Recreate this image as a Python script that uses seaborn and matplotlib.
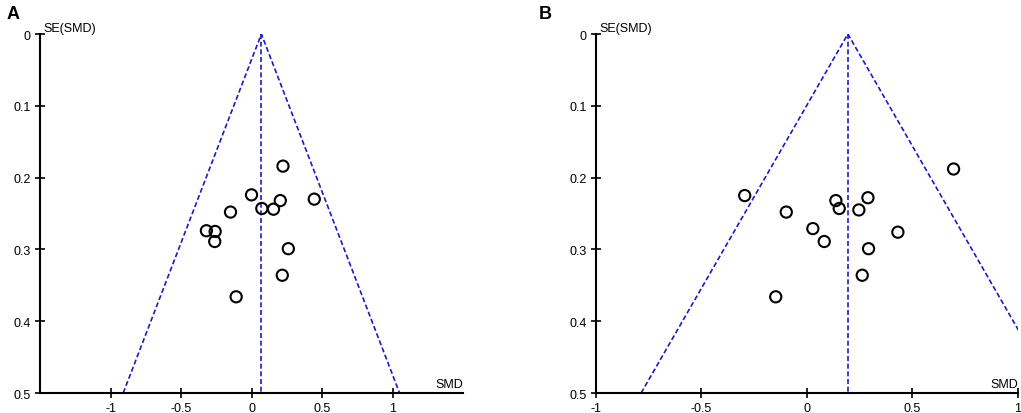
import matplotlib
matplotlib.use('Agg')
import matplotlib.pyplot as plt
import seaborn as sns
import pandas as pd

# Funnel plot data (SMD vs SE(SMD))
smd_a = [0.223, 0.000, 0.073, 0.204, 0.156, 0.445, -0.149, -0.320, -0.258, -0.261, 0.261, 0.218, -0.109]
se_a = [0.184, 0.224, 0.243, 0.232, 0.244, 0.230, 0.248, 0.274, 0.275, 0.289, 0.299, 0.336, 0.366]
pooled_a = 0.07

smd_b = [0.695, -0.295, -0.098, 0.137, 0.153, 0.289, 0.246, 0.028, 0.082, 0.431, 0.292, 0.262, -0.148]
se_b = [0.188, 0.225, 0.248, 0.232, 0.243, 0.228, 0.245, 0.271, 0.289, 0.276, 0.299, 0.336, 0.366]
pooled_b = 0.194

se_max = 0.5
x_ticks = [-1, -0.5, 0, 0.5, 1]
x_labels = ['-1', '-0.5', '0', '0.5', '1']
y_ticks = [0, 0.1, 0.2, 0.3, 0.4, 0.5]
y_labels = ['0', '0.1', '0.2', '0.3', '0.4', '0.5']

sns.set_style('white')
plt.rcParams['font.family'] = ['Liberation Sans', 'DejaVu Sans']
plt.rcParams['text.color'] = 'black'
plt.rcParams['xtick.color'] = 'black'
plt.rcParams['ytick.color'] = 'black'

fig = plt.figure(figsize=(10.21, 4.14), dpi=100)
ax_a = fig.add_axes([0.0392, 0.0483, 0.4143, 0.8671])
ax_b = fig.add_axes([0.5837, 0.0483, 0.4133, 0.8671])

line_col = '#1a1acc'


def funnel(ax, smd, se, pooled, xlim, letter, letter_x):
    df = pd.DataFrame({'SMD': smd, 'SE': se})
    # funnel: pooled +/- 1.96*SE
    ax.plot([pooled - 1.96 * se_max, pooled, pooled + 1.96 * se_max], [se_max, 0, se_max],
            ls=(0, (3, 1.6)), color=line_col, lw=1.2, zorder=2)
    ax.plot([pooled, pooled], [0, se_max], ls=(0, (3, 1.6)), color=line_col, lw=1.2, zorder=2)
    sns.scatterplot(data=df, x='SMD', y='SE', ax=ax, s=65, facecolor='none',
                    edgecolor='black', linewidth=1.5, zorder=3, legend=False)
    ax.set_xlim(*xlim)
    ax.set_ylim(se_max, 0)
    ax.set_xticks(x_ticks)
    ax.set_xticklabels(x_labels)
    ax.set_yticks(y_ticks)
    ax.set_yticklabels(y_labels)
    ax.set_xlabel('')
    ax.set_ylabel('')
    for s in ['top', 'right']:
        ax.spines[s].set_visible(False)
    for s in ['left', 'bottom']:
        ax.spines[s].set_color('black')
        ax.spines[s].set_linewidth(1.5)
    ax.tick_params(direction='inout', length=7, width=1.2, colors='black',
                   labelsize=9, pad=3, left=True, bottom=True)
    ax.text(0.008, 1.0, 'SE(SMD)', transform=ax.transAxes, ha='left', va='bottom', fontsize=9)
    ax.text(1.0, 0.008, 'SMD', transform=ax.transAxes, ha='right', va='bottom', fontsize=9)
    fig.text(letter_x, 0.965, letter, ha='left', va='center', fontsize=13,
             fontweight='bold')


funnel(ax_a, smd_a, se_a, pooled_a, (-1.5, 1.5), 'A', 0.006)
funnel(ax_b, smd_b, se_b, pooled_b, (-1, 1), 'B', 0.528)

fig.savefig('out.png', dpi=100)
